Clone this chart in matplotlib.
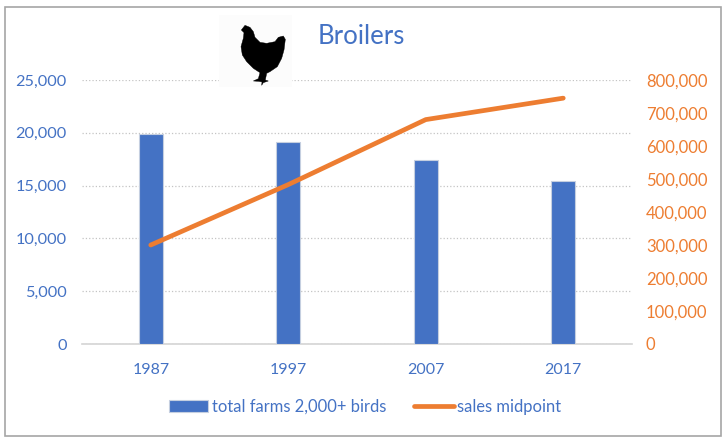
import matplotlib
matplotlib.use('Agg')
import matplotlib.pyplot as plt
from matplotlib.patches import Polygon, Rectangle
import numpy as np

anos = ['1987', '1997', '2007', '2017']
total_farms = [19850, 19100, 17400, 15400]
sales_midpoint = [300000, 483000, 680000, 745000]
ticks_esq = [0, 5000, 10000, 15000, 20000, 25000]
ticks_dir = [0, 100000, 200000, 300000, 400000, 500000, 600000, 700000, 800000]

AZUL = '#4472C4'
LARANJA = '#ED7D31'
W, H = 723, 443

plt.rcParams['font.family'] = ['Lato', 'DejaVu Sans']

fig = plt.figure(figsize=(W / 100, H / 100), dpi=100)

# area do grafico em pixels
x0, x1, y0, y1 = 82, 632, 344, 80
ax = fig.add_axes([x0 / W, 1 - y0 / H, (x1 - x0) / W, (y0 - y1) / H])
ax2 = ax.twinx()

x = np.arange(len(anos))
ax.bar(x, total_farms, width=0.175, color=AZUL, edgecolor='#c5cfe0', linewidth=0.8,
       label='total farms 2,000+ birds', zorder=3)
linha, = ax2.plot(x, sales_midpoint, color=LARANJA, linewidth=3.4, solid_capstyle='round',
                  label='sales midpoint')

ax.set_xlim(-0.5, 3.5)
ax.set_ylim(0, 25000)
ax2.set_ylim(0, 800000)
ax.set_xticks(x, anos)
ax.set_yticks(ticks_esq, [f'{v:,}' for v in ticks_esq])
ax2.set_yticks(ticks_dir, [f'{v:,}' for v in ticks_dir])
ax.grid(axis='y', color='#c4c4c4', linestyle=':', linewidth=0.9, zorder=0)
ax.set_axisbelow(True)

for s in ['top', 'left', 'right']:
    ax.spines[s].set_visible(False)
    ax2.spines[s].set_visible(False)
ax2.spines['bottom'].set_visible(False)
ax.spines['bottom'].set_color('#d4d4d4')
ax.spines['bottom'].set_linewidth(1.2)

ax.tick_params(axis='x', length=0, labelsize=11.5, labelcolor=AZUL, pad=14)
ax.tick_params(axis='y', length=0, labelsize=11.7, labelcolor=AZUL, pad=11)
ax2.tick_params(axis='y', length=0, labelsize=12, labelcolor=LARANJA, pad=10)

fig.text(361.5 / W, 1 - 37 / H, 'Broilers', color=AZUL, fontsize=18.5, ha='center', va='center')

# legenda
handles = [Rectangle((0, 0), 1, 1, facecolor=AZUL, edgecolor='#c5cfe0', linewidth=0.8), linha]
fig.legend(handles, ['total farms 2,000+ birds', 'sales midpoint'], loc='center',
           bbox_to_anchor=(365 / W, 1 - 407 / H), ncol=2, frameon=False, fontsize=11.9,
           labelcolor=AZUL, handlelength=2.4, handletextpad=0.2, columnspacing=1.7, borderpad=0)

# moldura externa
fig.add_artist(Rectangle((4.5 / W, 1 - 436 / H), 716 / W, 429 / H, transform=fig.transFigure,
                         fill=False, edgecolor='#a6a6a6', linewidth=1.2))

# galinha (contorno em pixels do recorte 3x)
contorno = [(124, 90), (135, 76), (150, 82), (160, 95), (165, 112), (180, 127), (200, 130),
            (225, 125), (235, 112), (250, 108), (256, 118), (252, 150), (245, 175), (232, 200),
            (210, 215), (200, 220), (196, 240), (205, 243), (190, 248), (185, 256), (186, 246),
            (176, 244), (160, 243), (175, 236), (180, 218), (160, 205), (140, 185), (127, 165),
            (123, 140), (130, 115), (132, 98)]
pontos = [((200 + a / 3) / W, 1 - (b / 3) / H) for a, b in contorno]
fig.add_artist(Rectangle((219 / W, 1 - 87 / H), 73 / W, 72 / H, transform=fig.transFigure,
                         facecolor='#fcfcfc', edgecolor='none'))
fig.add_artist(Polygon(pontos, closed=True, transform=fig.transFigure, facecolor='black',
                       edgecolor='black', linewidth=0.3))

fig.savefig('out.png', dpi=100)
